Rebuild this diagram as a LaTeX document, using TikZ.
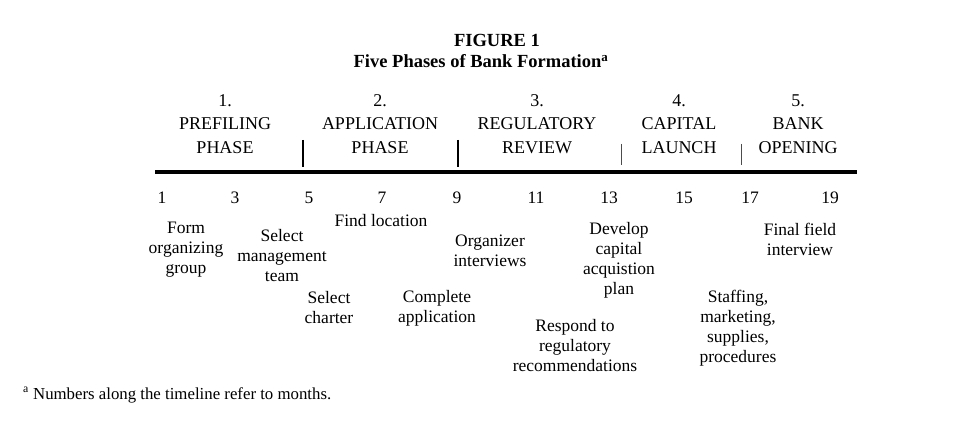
\documentclass[tikz,border=0pt]{standalone}
\usepackage{fontspec}
\setmainfont{Liberation Serif}
\begin{document}
\begin{tikzpicture}[x=1pt,y=-1pt,
  lbl/.style={inner sep=0pt, align=center, font=\fontsize{17.5}{20}\selectfont},
  hdr/.style={inner sep=0pt, align=center, font=\fontsize{18}{23.5}\selectfont},
  num/.style={inner sep=0pt, font=\fontsize{17.5}{20}\selectfont},
  foot/.style={inner sep=0pt, font=\fontsize{16.8}{20}\selectfont},
  ttl/.style={inner sep=0pt, font=\fontsize{18.5}{21}\selectfont\bfseries},
  axis/.style={line width=3.5pt},
  sep/.style={line width=1.2pt},
  sepl/.style={line width=0.8pt, black!70}]
\useasboundingbox (0,0) rectangle (960,422);
% titles
\node[ttl] (fig) at (497,40) {FIGURE 1};
\node[ttl] (sub) at (481,61) {Five Phases of Bank Formation\textsuperscript{a}};
% phase headers
\node[hdr] (p1) at (225,124) {1.\\PREFILING\\PHASE};
\node[hdr] (p2) at (380,124) {2.\\APPLICATION\\PHASE};
\node[hdr] (p3) at (537,124) {3.\\REGULATORY\\REVIEW};
\node[hdr] (p4) at (679,124) {4.\\CAPITAL\\LAUNCH};
\node[hdr] (p5) at (798,124) {5.\\BANK\\OPENING};
% separators
\coordinate (s1t) at (303,140); \coordinate (s1b) at (303,167);
\coordinate (s2t) at (458,140); \coordinate (s2b) at (458,167);
\coordinate (s3t) at (621,144); \coordinate (s3b) at (621,165);
\coordinate (s4t) at (741,144); \coordinate (s4b) at (741,165);
\draw[sep] (s1t) -- (s1b);
\draw[sep] (s2t) -- (s2b);
\draw[sepl] (s3t) -- (s3b);
\draw[sepl] (s4t) -- (s4b);
% timeline
\coordinate (tl) at (155,172);
\coordinate (tr) at (857,172);
\draw[axis] (tl) -- (tr);
% month numbers
\node[num] (m1) at (162,198) {1};
\node[num] (m3) at (235,198) {3};
\node[num] (m5) at (309,198) {5};
\node[num] (m7) at (382,198) {7};
\node[num] (m9) at (457,198) {9};
\node[num] (m11) at (536,198) {11};
\node[num] (m13) at (609,198) {13};
\node[num] (m15) at (684,198) {15};
\node[num] (m17) at (750,198) {17};
\node[num] (m19) at (830,198) {19};
% activities
\node[lbl] (a1) at (186,250) {Form\\organizing\\group};
\node[lbl] (a2) at (282,256) {Select\\management\\team};
\node[lbl] (a3) at (381,221) {Find location};
\node[lbl] (a4) at (329,308) {Select\\charter};
\node[lbl] (a5) at (437,308) {Complete\\application};
\node[lbl] (a6) at (490,251) {Organizer\\interviews};
\node[lbl] (a7) at (619,260) {Develop\\capital\\acquistion\\plan};
\node[lbl] (a8) at (575,346) {Respond to\\regulatory\\recommendations};
\node[lbl] (a9) at (800,239) {Final field\\interview};
\node[lbl] (a10) at (738,328) {Staffing,\\marketing,\\supplies,\\procedures};
% footnote
\node[foot, anchor=west] (fn) at (23,395) {\textsuperscript{a} Numbers along the timeline refer to months.};
\end{tikzpicture}
\end{document}
